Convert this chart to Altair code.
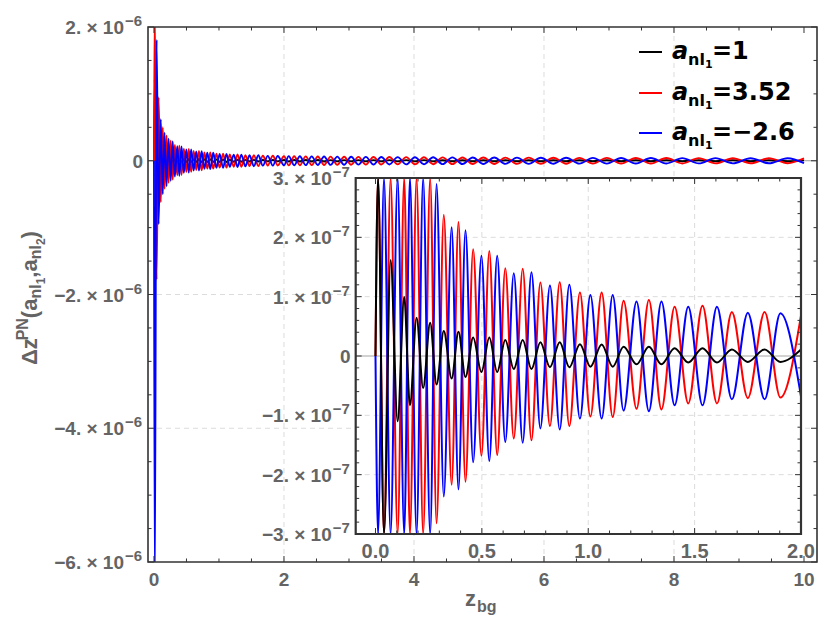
import altair as alt
import pandas as pd

# ---------------- layout constants (pixels) ----------------
W, H = 669, 535                      # main plot area
PAD = {"left": 140, "top": 19, "right": 6, "bottom": 64}
IN_L, IN_R, IN_T, IN_B = 207.7, 653.0, 151.0, 507.0   # inset frame inside the view
FONT = "Liberation Sans, DejaVu Sans, Arial, sans-serif"
LFONT = "DejaVu Sans, Liberation Sans, sans-serif"
GRAY = "#646464"
FRAME = "#333333"
GRID = "#dcdcdc"

# ---------------- data ----------------
# positions of the extrema of the curves (z_bg)
z_ext = [0.0, 0.012, 0.04, 0.071, 0.104, 0.135, 0.162, 0.193, 0.224, 0.257, 0.287,
         0.321, 0.358, 0.390, 0.423, 0.459, 0.498, 0.535, 0.572, 0.610, 0.650,
         0.692, 0.733, 0.775, 0.820, 0.866, 0.911, 0.961, 1.010, 1.063, 1.115,
         1.166, 1.227, 1.285, 1.344, 1.406, 1.470, 1.537, 1.605, 1.675, 1.750,
         1.829, 1.903, 2.000,
         2.073, 2.157, 2.244, 2.334, 2.426, 2.520, 2.617, 2.717, 2.820, 2.925,
         3.033, 3.145, 3.259, 3.377, 3.497, 3.621, 3.749, 3.880, 4.015, 4.153,
         4.295, 4.441, 4.591, 4.746, 4.904, 5.067, 5.235, 5.407, 5.584, 5.765,
         5.952, 6.144, 6.341, 6.544, 6.752, 6.966, 7.186, 7.412, 7.644, 7.883,
         8.128, 8.380, 8.639, 8.905, 9.178, 9.459, 9.748, 10.0]

# values at those extrema, in units of 1e-7
red_ext = [0, 23.0, -17.8, 9.5, -6.2, 5.0, -4.2, 3.8, -3.3, 3.0, -2.82,
           2.38, -2.17, 2.26, -2.12, 1.80, -1.68, 1.77, -1.67, 1.48, -1.39,
           1.47, -1.42, 1.24, -1.18, 1.245, -1.18, 1.07, -1.02, 1.07, -1.03,
           0.93, -0.89, 0.945, -0.90, 0.83, -0.80, 0.845, -0.80, 0.74, -0.71,
           0.74, -0.70, 0.68,
           -0.69, 0.68, -0.67, 0.66, -0.65, 0.64, -0.63, 0.62, -0.61, 0.60,
           -0.59, 0.585, -0.58, 0.57, -0.56, 0.55, -0.545, 0.54, -0.53, 0.52,
           -0.515, 0.51, -0.50, 0.495, -0.49, 0.48, -0.475, 0.47, -0.465, 0.46,
           -0.45, 0.445, -0.44, 0.435, -0.43, 0.425, -0.42, 0.415, -0.41, 0.405,
           -0.40, 0.395, -0.39, 0.385, -0.38, 0.375, -0.37, 0.34]

blue_ext = [0, -65.0, 18.1, -9.5, 6.2, -5.0, 4.2, -3.8, 3.3, -3.0, 2.9,
            -2.37, 2.17, -2.25, 2.12, -1.79, 1.69, -1.77, 1.69, -1.45, 1.395,
            -1.46, 1.41, -1.22, 1.19, -1.24, 1.20, -1.055, 1.03, -1.055, 1.03,
            -0.92, 0.92, -0.93, 0.92, -0.83, 0.83, -0.83, 0.83, -0.73, 0.73,
            -0.73, 0.72, -0.68,
            0.69, -0.68, 0.67, -0.66, 0.65, -0.64, 0.63, -0.62, 0.61, -0.60,
            0.59, -0.585, 0.58, -0.57, 0.56, -0.55, 0.545, -0.54, 0.53, -0.52,
            0.515, -0.51, 0.50, -0.495, 0.49, -0.48, 0.475, -0.47, 0.465, -0.46,
            0.45, -0.445, 0.44, -0.435, 0.43, -0.425, 0.42, -0.415, 0.41, -0.405,
            0.40, -0.395, 0.39, -0.385, 0.38, -0.375, 0.37, -0.34]

black_ext = [0, 12.1, -4.5, 1.62, -1.10, 0.995, -0.83, 0.645, -0.54, 0.56, -0.48,
             0.42, -0.38, 0.41, -0.355, 0.31, -0.27, 0.31, -0.27, 0.27, -0.22,
             0.27, -0.22, 0.23, -0.19, 0.23, -0.19, 0.20, -0.18, 0.195, -0.18,
             0.155, -0.14, 0.155, -0.14, 0.13, -0.11, 0.13, -0.11, 0.11, -0.10,
             0.11, -0.10, 0.11,
             -0.11, 0.11, -0.108, 0.106, -0.105, 0.104, -0.102, 0.10, -0.099, 0.098,
             -0.097, 0.096, -0.095, 0.094, -0.093, 0.092, -0.091, 0.09, -0.089, 0.088,
             -0.087, 0.086, -0.085, 0.084, -0.083, 0.082, -0.081, 0.08, -0.079, 0.078,
             -0.077, 0.076, -0.075, 0.074, -0.073, 0.072, -0.071, 0.07, -0.07, 0.069,
             -0.068, 0.068, -0.067, 0.067, -0.066, 0.066, -0.065, 0.06]

series_keys = ["k", "r", "b"]
series_colors = {"k": "#000000", "r": "#ff0000", "b": "#0000ff"}
legend_values = ["1", "3.52", "\u22122.6"]

main_x_labels = [0, 2, 4, 6, 8, 10]
main_y_labels = [2e-6, -2e-6, -4e-6, -6e-6]      # plus "0"
inset_x_labels = [0.0, 0.5, 1.0, 1.5, 2.0]
inset_y_labels = [3e-7, 2e-7, 1e-7, -1e-7, -2e-7, -3e-7]   # plus "0"
main_x_grid = [2, 4, 6, 8]
main_y_grid = [-2e-6, -4e-6]
inset_x_grid = [0.5, 1.0, 1.5]
inset_y_grid = [2e-7, 1e-7, -1e-7, -2e-7]

# ---------------- tables ----------------
rows = []
for key, vals in zip(series_keys, [black_ext, red_ext, blue_ext]):
    for i, (z, v) in enumerate(zip(z_ext, vals)):
        rows.append({"z": z, "v": v * 1e-7, "s": key, "i": i})
curves = pd.DataFrame(rows)
one = pd.DataFrame({"k": [0]})

def vals_df(vs):
    return pd.DataFrame({"v": vs})

def sci_df(vs, exp):
    out = []
    for v in vs:
        m = round(abs(v) / 10 ** exp)
        out.append({"v": v, "t": ("\u2212" if v < 0 else "") + f"{m}. \u00d7 10",
                    "sup": "\u2212" + str(-exp)})
    return pd.DataFrame(out)

main_x_minor = [0.5 * i for i in range(21) if i % 4 != 0]
main_y_minor = [(-6 + 0.5 * i) * 1e-6 for i in range(17) if i % 4 != 0]
main_y_major = [(-6 + 2 * i) * 1e-6 for i in range(5)]
inset_x_minor = [round(0.1 * i, 1) for i in range(21) if i % 5 != 0]
inset_x_major = [0.0, 0.5, 1.0, 1.5, 2.0]
inset_y_minor = [(-3 + 0.2 * i) * 1e-7 for i in range(31) if i % 5 != 0]
inset_y_major = [(-3 + i) * 1e-7 for i in range(7)]

# ---------------- scales ----------------
mx = alt.Scale(domain=[-0.092, 10.2], nice=False, zero=False)
my = alt.Scale(domain=[-6e-6, 2e-6], nice=False, zero=False)
ix = alt.Scale(domain=[-0.093, 2.0], range=[IN_L, IN_R], nice=False, zero=False)
iy = alt.Scale(domain=[-3e-7, 3e-7], range=[IN_B, IN_T], nice=False, zero=False, clamp=True)

def X(field, sc):
    return alt.X(field, scale=sc, axis=None)

def Y(field, sc):
    return alt.Y(field, scale=sc, axis=None)

# ---------------- helpers ----------------
def hgrid(vs, ys, x0, x1, dash=True, color=GRID):
    return alt.Chart(vals_df(vs)).mark_rule(
        color=color, strokeWidth=1, strokeDash=[5, 4] if dash else [1, 0]
    ).encode(y=Y("v:Q", ys), x=alt.value(x0), x2=alt.value(x1))

def vgrid(vs, xs, y0, y1):
    return alt.Chart(vals_df(vs)).mark_rule(color=GRID, strokeWidth=1, strokeDash=[5, 4]).encode(
        x=X("v:Q", xs), y=alt.value(y0), y2=alt.value(y1))

def xticks(vs, xs, ybot, ytop, L):
    a = alt.Chart(vals_df(vs)).mark_rule(color=FRAME, strokeWidth=1).encode(
        x=X("v:Q", xs), y=alt.value(ybot), y2=alt.value(ybot - L))
    b = alt.Chart(vals_df(vs)).mark_rule(color=FRAME, strokeWidth=1).encode(
        x=X("v:Q", xs), y=alt.value(ytop), y2=alt.value(ytop + L))
    return [a, b]

def yticks(vs, ys, xl, xr, L):
    a = alt.Chart(vals_df(vs)).mark_rule(color=FRAME, strokeWidth=1).encode(
        y=Y("v:Q", ys), x=alt.value(xl), x2=alt.value(xl + L))
    b = alt.Chart(vals_df(vs)).mark_rule(color=FRAME, strokeWidth=1).encode(
        y=Y("v:Q", ys), x=alt.value(xr), x2=alt.value(xr - L))
    return [a, b]

def txt(**kw):
    base = dict(font=FONT, fontWeight="bold", color=GRAY, baseline="alphabetic")
    base.update(kw)
    return base

def x_labels(vs, xs, ybase, fmt, size):
    return alt.Chart(vals_df(vs)).mark_text(**txt(fontSize=size, align="center")).encode(
        x=X("v:Q", xs), y=alt.value(ybase), text=alt.Text("v:Q", format=fmt))

def y_labels(vs, ys, exp, xr, supw):
    d = sci_df(vs, exp)
    main_t = alt.Chart(d).mark_text(**txt(fontSize=19, align="right", dy=7)).encode(
        y=Y("v:Q", ys), x=alt.value(xr - supw), text="t:N")
    sup_t = alt.Chart(d).mark_text(**txt(fontSize=15, align="left", dy=-1)).encode(
        y=Y("v:Q", ys), x=alt.value(xr - supw + 1), text="sup:N")
    zero_t = alt.Chart(vals_df([0.0])).mark_text(**txt(fontSize=19, align="right", dy=7)).encode(
        y=Y("v:Q", ys), x=alt.value(xr), text=alt.value("0"))
    return [main_t, sup_t, zero_t]

# ---------------- main panel ----------------
main_layers = [
    vgrid(main_x_grid, mx, 0, H),
    hgrid(main_y_grid, my, 0, W),
    hgrid([0.0], my, 0, W, dash=False, color="#9a9a9a"),
]
for key in series_keys:
    main_layers.append(
        alt.Chart(curves).transform_filter(alt.datum.s == key).mark_line(
            interpolate="monotone", clip=True, strokeWidth=1.9, color=series_colors[key]
        ).encode(x=X("z:Q", mx), y=Y("v:Q", my), order="i:Q")
    )
main_layers += xticks(main_x_minor, mx, H, 0, 3.5) + xticks(main_x_labels, mx, H, 0, 6)
main_layers += yticks(main_y_minor, my, 0, W, 3.5) + yticks(main_y_major, my, 0, W, 6)
main_layers.append(
    alt.Chart(one).mark_rect(filled=False, stroke=FRAME, strokeWidth=1.6).encode(
        x=alt.value(0), x2=alt.value(W), y=alt.value(0), y2=alt.value(H)))
main_layers.append(x_labels(main_x_labels, mx, H + 24, "d", 19))
main_layers += y_labels(main_y_labels, my, -6, -5, 19)

# y title built from pieces (rotated, reading upwards)
adv = {"\u0394": 0.62, "z": 0.5, "P": 0.667, "N": 0.722, "(": 0.333, ")": 0.333,
       "a": 0.556, "n": 0.611, "l": 0.278, "1": 0.556, "2": 0.556, ",": 0.278}
pieces = [("\u0394z", 22, 0), ("PN", 16, -9), ("(a", 22, 0), ("nl", 16, 4), ("1", 12, 8),
          (",a", 22, 0), ("nl", 16, 4), ("2", 12, 8), (")", 22, 0)]
ty = 338.0          # bottom end of the title (view coords)
tx = -111.0         # baseline (view coords)
for s, size, shift in pieces:
    main_layers.append(alt.Chart(one).mark_text(
        **txt(text=s, fontSize=size, angle=270, align="left")
    ).encode(x=alt.value(tx + shift), y=alt.value(ty)))
    ty -= sum(adv[c] for c in s) * size

# x title
main_layers.append(alt.Chart(one).mark_text(**txt(text="z", fontSize=22, align="left")).encode(
    x=alt.value(317), y=alt.value(579)))
main_layers.append(alt.Chart(one).mark_text(**txt(text="bg", fontSize=16, align="left")).encode(
    x=alt.value(329), y=alt.value(585)))

# legend
LEG_BASE = [32, 73, 113]
for k, key in enumerate(series_keys):
    yb = LEG_BASE[k]
    main_layers.append(alt.Chart(one).mark_rule(color=series_colors[key], strokeWidth=2).encode(
        x=alt.value(491), x2=alt.value(514), y=alt.value(yb - 7)))
    main_layers.append(alt.Chart(one).mark_text(
        **txt(text="a", font=LFONT, fontSize=24, fontStyle="italic", color="black", align="left")
    ).encode(x=alt.value(524), y=alt.value(yb)))
    main_layers.append(alt.Chart(one).mark_text(
        **txt(text="nl", font=LFONT, fontSize=16, color="black", align="left")
    ).encode(x=alt.value(540), y=alt.value(yb + 6)))
    main_layers.append(alt.Chart(one).mark_text(
        **txt(text="1", font=LFONT, fontSize=11, color="black", align="left")
    ).encode(x=alt.value(557), y=alt.value(yb + 9)))
    main_layers.append(alt.Chart(one).mark_text(
        **txt(text="=" + legend_values[k], font=LFONT, fontSize=24, color="black", align="left")
    ).encode(x=alt.value(564), y=alt.value(yb)))

main = alt.layer(*main_layers)

# ---------------- inset panel ----------------
inset_curves = curves[curves["z"] <= 2.0]
inset_layers = [
    alt.Chart(one).mark_rect(fill="white").encode(
        x=alt.value(IN_L), x2=alt.value(IN_R), y=alt.value(IN_T), y2=alt.value(IN_B)),
    vgrid(inset_x_grid, ix, IN_T, IN_B),
    hgrid(inset_y_grid, iy, IN_L, IN_R),
    hgrid([0.0], iy, IN_L, IN_R, dash=False, color="#9a9a9a"),
]
for key in ["r", "b", "k"]:
    inset_layers.append(
        alt.Chart(inset_curves).transform_filter(alt.datum.s == key).mark_line(
            interpolate="monotone", strokeWidth=2, color=series_colors[key]
        ).encode(x=X("z:Q", ix), y=Y("v:Q", iy), order="i:Q")
    )
inset_layers += xticks(inset_x_minor, ix, IN_B, IN_T, 3.5) + xticks(inset_x_major, ix, IN_B, IN_T, 6)
inset_layers += yticks(inset_y_minor, iy, IN_L, IN_R, 3.5) + yticks(inset_y_major, iy, IN_L, IN_R, 6)
inset_layers.append(
    alt.Chart(one).mark_rect(filled=False, stroke=FRAME, strokeWidth=2.2).encode(
        x=alt.value(IN_L), x2=alt.value(IN_R), y=alt.value(IN_T), y2=alt.value(IN_B)))
inset_layers.append(x_labels(inset_x_labels, ix, IN_B + 24, ".1f", 20))
inset_layers += y_labels(inset_y_labels, iy, -7, IN_L - 5, 19)

inset = alt.layer(*inset_layers)

chart = alt.layer(main, inset).resolve_scale(x="independent", y="independent").properties(
    width=W, height=H, padding=PAD, autosize=alt.AutoSizeParams(type="none")
).configure_view(stroke=None)

chart.save("out.html", embed_options={"renderer": "svg", "actions": False})
